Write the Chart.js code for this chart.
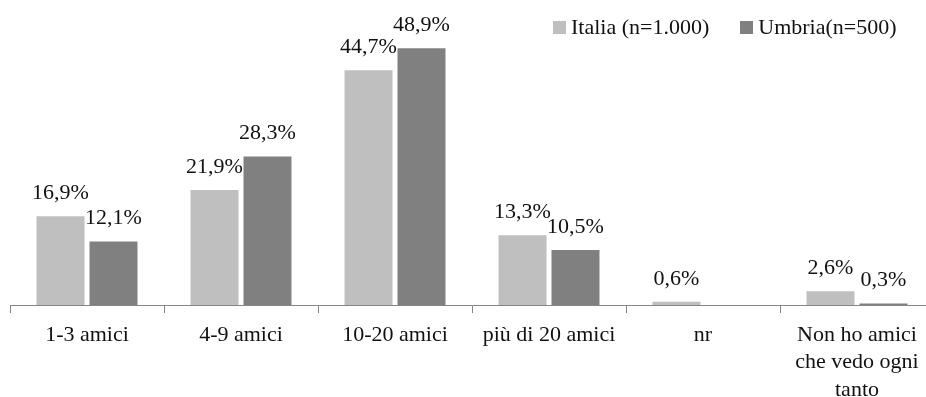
<!DOCTYPE html>
<html lang="it">
<head>
<meta charset="utf-8">
<title>Amici</title>
<script src="https://cdn.jsdelivr.net/npm/chart.js@4.4.1/dist/chart.umd.min.js"></script>
<style>
  html, body {
    margin: 0;
    padding: 0;
    background: #ffffff;
    overflow: hidden;
  }
  #wrap {
    position: relative;
    width: 934px;
    height: 397px;
  }
  #legend {
    position: absolute;
    left: 553px;
    top: 14px;
    display: flex;
    align-items: center;
    gap: 31px;
    font-family: "Liberation Serif", "Times New Roman", serif;
    font-size: 22px;
    line-height: 25px;
    color: #111111;
  }
  #legend .item {
    display: flex;
    align-items: center;
  }
  #legend .box {
    width: 13px;
    height: 13px;
    margin-right: 5px;
    margin-top: 1px;
  }
</style>
</head>
<body>
<div id="wrap">
  <canvas id="chart"></canvas>
  <div id="legend"></div>
</div>
<script>
const categories = [
  "1-3 amici",
  "4-9 amici",
  "10-20 amici",
  "più di 20 amici",
  "nr",
  ["Non ho amici", "che vedo ogni", "tanto"],
];
const italia = [16.9, 21.9, 44.7, 13.3, 0.6, 2.6];
const umbria = [12.1, 28.3, 48.9, 10.5, null, 0.3];
const seriesNames = ["Italia (n=1.000)", "Umbria(n=500)"];
const seriesColors = ["#BFBFBF", "#808080"];

const FONT = "'Liberation Serif', 'Times New Roman', serif";

// value labels above each bar, italian decimal comma
const valueLabels = {
  id: "valueLabels",
  afterDatasetsDraw(chart) {
    const ctx = chart.ctx;
    ctx.save();
    ctx.font = "22px " + FONT;
    ctx.fillStyle = "#111111";
    ctx.textAlign = "center";
    ctx.textBaseline = "alphabetic";
    chart.data.datasets.forEach((ds, i) => {
      const meta = chart.getDatasetMeta(i);
      meta.data.forEach((bar, j) => {
        const v = ds.data[j];
        if (v === null || v === undefined) return;
        const txt = v.toFixed(1).replace(".", ",") + "%";
        ctx.fillText(txt, bar.x, bar.y - 17);
      });
    });
    ctx.restore();
  },
};

const chart = new Chart(document.getElementById("chart"), {
  type: "bar",
  data: {
    labels: categories,
    datasets: [
      {
        label: seriesNames[0],
        data: italia,
        backgroundColor: seriesColors[0],
        categoryPercentage: 0.688,
        barPercentage: 0.906,
      },
      {
        label: seriesNames[1],
        data: umbria,
        backgroundColor: seriesColors[1],
        categoryPercentage: 0.688,
        barPercentage: 0.906,
      },
    ],
  },
  options: {
    responsive: true,
    maintainAspectRatio: false,
    animation: false,
    layout: {
      padding: { top: 11, left: 10, right: 0, bottom: 0 },
    },
    plugins: {
      legend: { display: false },
      tooltip: { enabled: false },
    },
    scales: {
      x: {
        grid: {
          display: true,
          drawOnChartArea: false,
          drawTicks: true,
          tickLength: 8,
          color: "#868686",
          lineWidth: 1,
        },
        border: { display: true, color: "#868686", width: 1 },
        ticks: {
          color: "#111111",
          padding: 8,
          maxRotation: 0,
          autoSkip: false,
          font: { family: FONT, size: 22, lineHeight: 1.25 },
        },
        afterFit(scale) {
          scale.height = 92;
        },
      },
      y: {
        display: false,
        min: 0,
        max: 56,
      },
    },
  },
  plugins: [valueLabels],
});

// html legend built from the datasets
const legendEl = document.getElementById("legend");
chart.data.datasets.forEach((ds) => {
  const item = document.createElement("div");
  item.className = "item";
  const box = document.createElement("span");
  box.className = "box";
  box.style.background = ds.backgroundColor;
  const label = document.createElement("span");
  label.textContent = ds.label;
  item.appendChild(box);
  item.appendChild(label);
  legendEl.appendChild(item);
});
</script>
</body>
</html>
